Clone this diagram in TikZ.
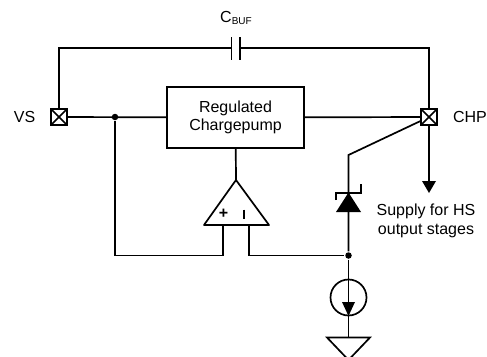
\documentclass[tikz,border=0pt]{standalone}
\usepackage{fontspec}
\setmainfont{Liberation Sans}
\tikzset{
wire/.style={line width=1.7pt},
lbl/.style={font=\fontsize{16}{18.5}\selectfont,inner sep=0pt,align=center},
pad/.style={draw,line width=2pt,fill=white,minimum size=15.5pt,inner sep=0pt,
 path picture={\draw[line width=1.7pt] (path picture bounding box.north west) -- (path picture bounding box.south east)
 (path picture bounding box.north east) -- (path picture bounding box.south west);}},
jdot/.style={circle,fill=black,minimum size=6.5pt,inner sep=0pt}
}
\begin{document}
\begin{tikzpicture}[x=1pt,y=-1pt,wire]
\useasboundingbox (0,0) rectangle (487,356);
\clip (0,0) rectangle (487,356);
% pads and block
\node[pad] (vs) at (59,117) {};
\node[pad] (chp) at (429,117) {};
\node[draw,line width=1.7pt,minimum width=137pt,minimum height=61pt,inner sep=0pt,lbl] (pump) at (235.5,117.5) {Regulated\\Chargepump};
\node[lbl] (vslbl) at (24.5,117) {VS};
\node[lbl] (chplbl) at (470,117) {CHP};
\node[lbl] (cbuf) at (236,18) {C\raisebox{-.25ex}{\fontsize{10}{10}\selectfont BUF}};
\node[lbl] (supply) at (426,221) {Supply for HS\\output stages};
% capacitor
\coordinate (capl) at (231.5,48);
\coordinate (capr) at (240,48);
\draw (vs) -- (59,48) -- (capl);
\draw (capr) -- (429,48) -- (chp);
\draw (231.5,37) -- (231.5,60);
\draw (240,37) -- (240,60);
% op amp
\coordinate (amptop) at (236,180);
\coordinate (ampl) at (204,225);
\coordinate (ampr) at (269,225);
\coordinate (plus) at (223,225);
\coordinate (minus) at (249,225);
\draw[line join=round] (amptop) -- (ampl) -- (ampr) -- cycle;
\node[inner sep=0pt] (plussign) at (223.5,214) {\fontsize{16}{16}\selectfont\bfseries +};
\draw[line width=2pt] (243.5,209.5) -- (243.5,218.5);
\draw (pump) -- (amptop);
% wires
\node[jdot] (vsdot) at (115,117) {};
\node[jdot] (fbdot) at (348.5,255.5) {};
\draw (vs) -- (pump);
\draw (pump) -- (chp);
\draw (vsdot) |- (plus |- fbdot) -- (plus);
\draw (minus) -- (minus |- fbdot) -- (fbdot);
\coordinate (bend) at (348.5,155);
\draw (chp) -- (bend) -- (fbdot);
% supply arrow
\coordinate (supplytip) at (429,193);
\draw (chp) -- (429,182);
\fill (422,181) -- (436,181) -- (supplytip) -- cycle;
% zener
\fill (348.5,192.5) -- (361,212) -- (336,212) -- cycle;
\draw (336,200) -- (336,193) -- (361,193) -- (361,184);
% current source
\node[draw,circle,line width=1.7pt,minimum size=36pt,inner sep=0pt] (isrc) at (348.5,297.5) {};
\coordinate (gnd) at (348.5,337.5);
\draw (fbdot) -- (gnd);
\fill (342,302) -- (355,302) -- (348.5,316) -- cycle;
% ground
\draw (327,337.5) -- (370,337.5) -- (348.5,360) -- cycle;
\end{tikzpicture}
\end{document}
